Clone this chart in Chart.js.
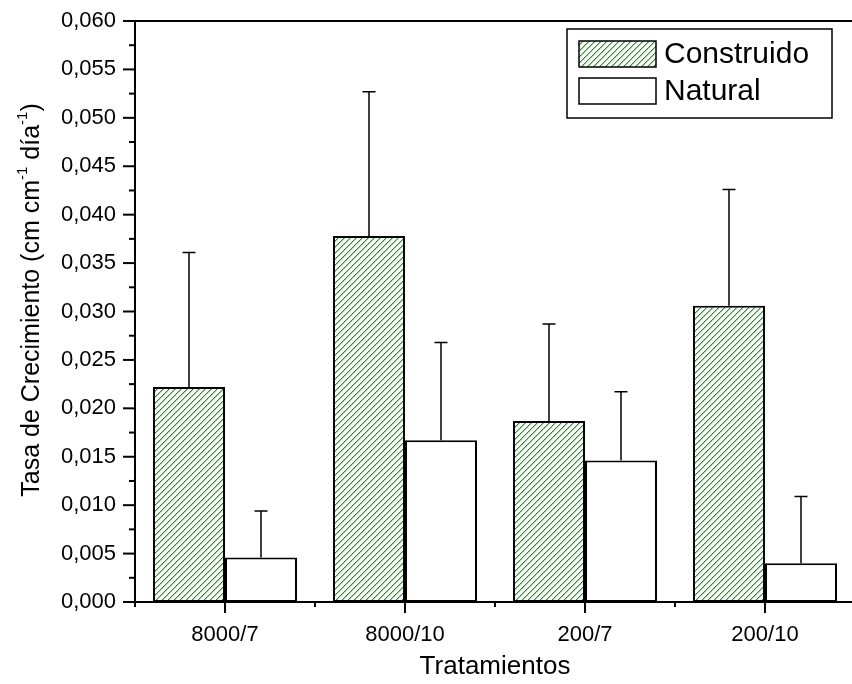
<!DOCTYPE html>
<html><head><meta charset="utf-8">
<script src="https://cdn.jsdelivr.net/npm/chart.js@4.4.0/dist/chart.umd.min.js"></script>
<style>html,body{margin:0;padding:0;overflow:hidden;background:#fff;width:852px;height:684px}#wrap{width:860px;height:684px}</style>
</head><body><div id="wrap"><canvas id="c" width="860" height="684"></canvas></div>
<script>
const categories = ['8000/7', '8000/10', '200/7', '200/10'];
const seriesNames = ['Construido', 'Natural'];
const construido = [0.0222, 0.0378, 0.0187, 0.0306];
const construidoErr = [0.0139, 0.0149, 0.0100, 0.0120];
const natural = [0.0046, 0.0167, 0.0146, 0.0040];
const naturalErr = [0.0048, 0.0101, 0.0071, 0.0069];
const yMin = 0, yMax = 0.06, yStep = 0.005;
const xTitle = 'Tratamientos';
const yTitleParts = [['Tasa de Crecimiento (cm cm', 0], ['-1', 1], [' día', 0], ['-1', 1], [')', 0]];

const FONT = "'Liberation Sans', Arial, sans-serif";
const GREEN = 'rgb(0,170,0)';
const GREEN_LIGHT = 'rgb(150,215,150)';

function hatch() {
  const c = document.createElement('canvas');
  c.width = 6; c.height = 6;
  const g = c.getContext('2d');
  g.fillStyle = '#fff'; g.fillRect(0, 0, 6, 6);
  g.fillStyle = GREEN_LIGHT;
  for (let i = 0; i < 6; i++) g.fillRect((i + 1) % 6, 5 - i, 1, 1);
  g.fillStyle = GREEN;
  for (let i = 0; i < 6; i++) g.fillRect(i, 5 - i, 1, 1);
  return g.createPattern(c, 'repeat');
}
const pat = hatch();

const decor = {
  id: 'decor',
  afterDatasetsDraw(chart) {
    const ctx = chart.ctx, a = chart.chartArea;
    const ys = chart.scales.y;
    ctx.save();
    const errs = [construidoErr, naturalErr];
    const vals = [construido, natural];
    ctx.strokeStyle = '#000'; ctx.lineWidth = 1.5;
    chart.data.datasets.forEach((ds, di) => {
      const meta = chart.getDatasetMeta(di);
      meta.data.forEach((bar, i) => {
        const top = ys.getPixelForValue(vals[di][i]);
        const cap = ys.getPixelForValue(vals[di][i] + errs[di][i]);
        ctx.beginPath();
        ctx.moveTo(bar.x, top); ctx.lineTo(bar.x, cap);
        ctx.moveTo(bar.x - 6.5, cap); ctx.lineTo(bar.x + 6.5, cap);
        ctx.stroke();
      });
    });
    ctx.lineWidth = 2; ctx.strokeStyle = '#000';
    ctx.strokeRect(a.left, a.top, a.right - a.left, a.bottom - a.top);
    for (let v = yMin; v <= yMax + 1e-9; v += yStep / 2) {
      const y = ys.getPixelForValue(v);
      const major = Math.abs(v / yStep - Math.round(v / yStep)) < 1e-6;
      ctx.beginPath();
      ctx.moveTo(a.left - (major ? 12 : 6), y); ctx.lineTo(a.left, y);
      ctx.stroke();
    }
    const n = categories.length;
    const slot = (a.right - a.left) / n;
    for (let i = 0; i <= 2 * n; i++) {
      const x = a.left + i * slot / 2;
      const major = i % 2 === 1;
      ctx.beginPath();
      ctx.moveTo(x, a.bottom); ctx.lineTo(x, a.bottom + (major ? 11 : 5));
      ctx.stroke();
    }
    ctx.lineWidth = 1.5;
    ctx.fillStyle = '#fff';
    ctx.fillRect(567, 29, 265, 89);
    ctx.strokeRect(567, 29, 265, 89);
    ctx.fillStyle = pat; ctx.fillRect(579, 41, 77, 26);
    ctx.strokeRect(579, 41, 77, 26);
    ctx.fillStyle = '#fff'; ctx.fillRect(579, 78, 77, 26);
    ctx.strokeRect(579, 78, 77, 26);
    ctx.fillStyle = '#000';
    ctx.font = '30px ' + FONT;
    ctx.textBaseline = 'middle'; ctx.textAlign = 'left';
    ctx.fillText(seriesNames[0], 664, 55);
    ctx.fillText(seriesNames[1], 664, 92);
    ctx.font = '26px ' + FONT;
    ctx.textAlign = 'center';
    ctx.fillText(xTitle, (a.left + a.right) / 2, 667);
    ctx.translate(32, 300);
    ctx.rotate(-Math.PI / 2);
    const big = '25px ' + FONT, small = '15px ' + FONT;
    let total = 0;
    yTitleParts.forEach(p => { ctx.font = p[1] ? small : big; total += ctx.measureText(p[0]).width; });
    let x = -total / 2;
    ctx.textAlign = 'left';
    yTitleParts.forEach(p => {
      ctx.font = p[1] ? small : big;
      ctx.fillText(p[0], x, p[1] ? -9 : 0);
      x += ctx.measureText(p[0]).width;
    });
    ctx.restore();
  }
};

new Chart(document.getElementById('c').getContext('2d'), {
  type: 'bar',
  data: {
    labels: categories,
    datasets: [
      { label: seriesNames[0], data: construido, backgroundColor: pat, borderColor: '#000', borderWidth: 2, borderSkipped: false, categoryPercentage: 0.8, barPercentage: 1.0 },
      { label: seriesNames[1], data: natural, backgroundColor: '#fff', borderColor: '#000', borderWidth: 2, borderSkipped: false, categoryPercentage: 0.8, barPercentage: 1.0 }
    ]
  },
  options: {
    responsive: false, animation: false, devicePixelRatio: 1,
    layout: { padding: { top: 21, right: 5, left: 0, bottom: 0 } },
    plugins: { legend: { display: false }, tooltip: { enabled: false } },
    scales: {
      x: {
        grid: { display: false, drawTicks: true, tickLength: 20 }, border: { display: false },
        ticks: { font: { family: FONT, size: 22 }, color: '#000', padding: 0, maxRotation: 0 },
        afterFit: s => { s.height = 82; }
      },
      y: {
        min: yMin, max: yMax,
        grid: { display: false, drawTicks: true, tickLength: 19 }, border: { display: false },
        ticks: { stepSize: yStep, font: { family: FONT, size: 22 }, color: '#000', padding: 0,
          callback: v => v.toFixed(3).replace('.', ',') },
        afterFit: s => { s.width = 135; }
      }
    }
  },
  plugins: [decor]
});
</script>
</body></html>
